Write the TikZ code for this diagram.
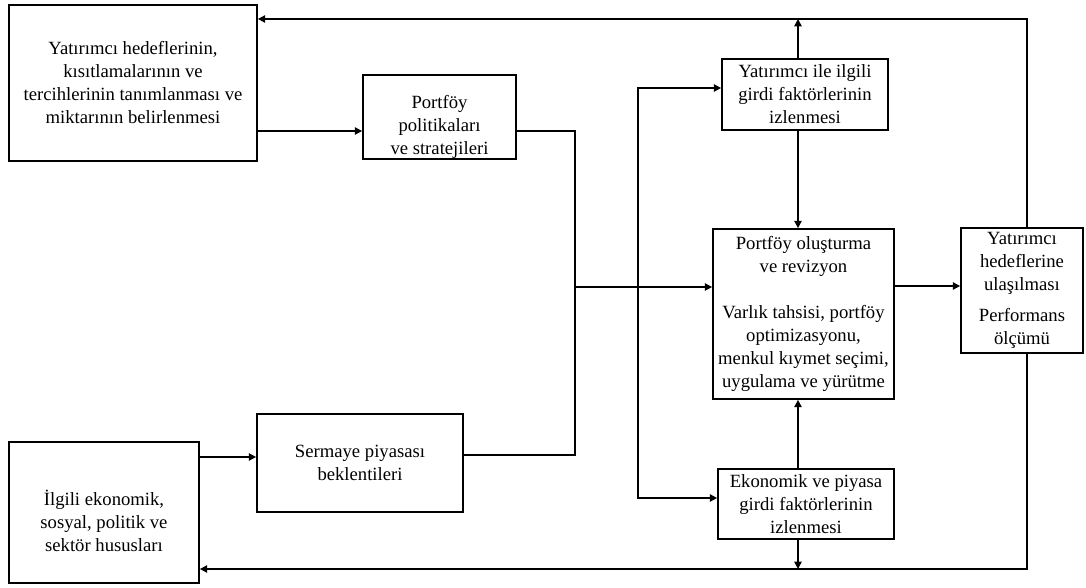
\documentclass[tikz,border=0pt]{standalone}
\usepackage{fontspec}
\setmainfont{Liberation Serif}
\usetikzlibrary{arrows.meta}
\tikzset{
	box/.style={draw, line width=1.3pt, inner sep=0pt, align=center, font=\fontsize{14}{17.25}\selectfont},
	link/.style={line width=1.2pt},
	arr/.style={link, -{Triangle[length=5.5pt,width=5.5pt]}}
}

\begin{document}
\begin{tikzpicture}[x=0.75pt,y=-0.75pt]
		%%%%% START %%%%%
		\useasboundingbox (0,0) rectangle (1086,588);
		
		\node[box, minimum width=186pt, minimum height=117pt] (goal) at (133,83) {Yatırımcı hedeflerinin,\\kısıtlamalarının ve\\tercihlerinin tanımlanması ve\\miktarının belirlenmesi};
		\node[box, minimum width=114.75pt, minimum height=63pt] (policy) at (439.5,117) {\rule{0pt}{24pt}Portföy\\politikaları\\ve stratejileri};
		\node[box, minimum width=142.5pt, minimum height=105.75pt] (factors) at (104,512.5) {\rule{0pt}{24pt}İlgili ekonomik,\\sosyal, politik ve\\sektör hususları};
		\node[box, minimum width=154.5pt, minimum height=73.5pt] (capmkt) at (360,463) {Sermaye piyasası\\beklentileri};
		\node[box, minimum width=124.5pt, minimum height=53.25pt] (invin) at (805,94.5) {Yatırımcı ile ilgili\\girdi faktörlerinin\\izlenmesi};
		\node[box, minimum width=135.75pt, minimum height=127.5pt] (build) at (803.5,314) {Portföy oluşturma\\ve revizyon\\[17.25pt]Varlık tahsisi, portföy\\optimizasyonu,\\menkul kıymet seçimi,\\uygulama ve yürütme};
		\node[box, minimum width=91.5pt, minimum height=93.75pt] (goalmet) at (1022,290.5) {Yatırımcı\\hedeflerine\\ulaşılması\\[6pt]Performans\\ölçümü};
		\node[box, minimum width=132pt, minimum height=52.5pt] (ecoin) at (806,504) {Ekonomik ve piyasa\\girdi faktörlerinin\\izlenmesi};
		
		\coordinate (splitA) at (575,287);
		\coordinate (splitB) at (638,287);
		\coordinate (topline) at (798,19);
		\coordinate (botline) at (798,569);
		
		\draw[arr] (goal.east |- 0,131) -- (policy.west |- 0,131);
		\draw[link] (policy.east |- 0,131) -| (splitA) |- (capmkt.east |- 0,455);
		\draw[arr] (splitA) -- (build.west |- splitA);
		\draw[arr] (splitB) |- (invin.west |- 0,88);
		\draw[arr] (splitB) |- (ecoin.west |- 0,498);
		\draw[arr] (factors.east |- 0,457) -- (capmkt.west |- 0,457);
		
		\draw[arr] (invin.south -| topline) -- (build.north -| topline);
		\draw[arr] (ecoin.north -| topline) -- (build.south -| topline);
		\draw[arr] (invin.north -| topline) -- (topline);
		\draw[arr] (ecoin.south -| topline) -- (botline);
		\draw[arr] (build.east |- 0,286) -- (goalmet.west |- 0,286);
		
		\draw[arr] (goalmet.north -| 1027,0) |- (goal.east |- topline);
		\draw[arr] (goalmet.south -| 1027,0) |- (factors.east |- botline);
		%%%%% END %%%%%
\end{tikzpicture}
\end{document}
